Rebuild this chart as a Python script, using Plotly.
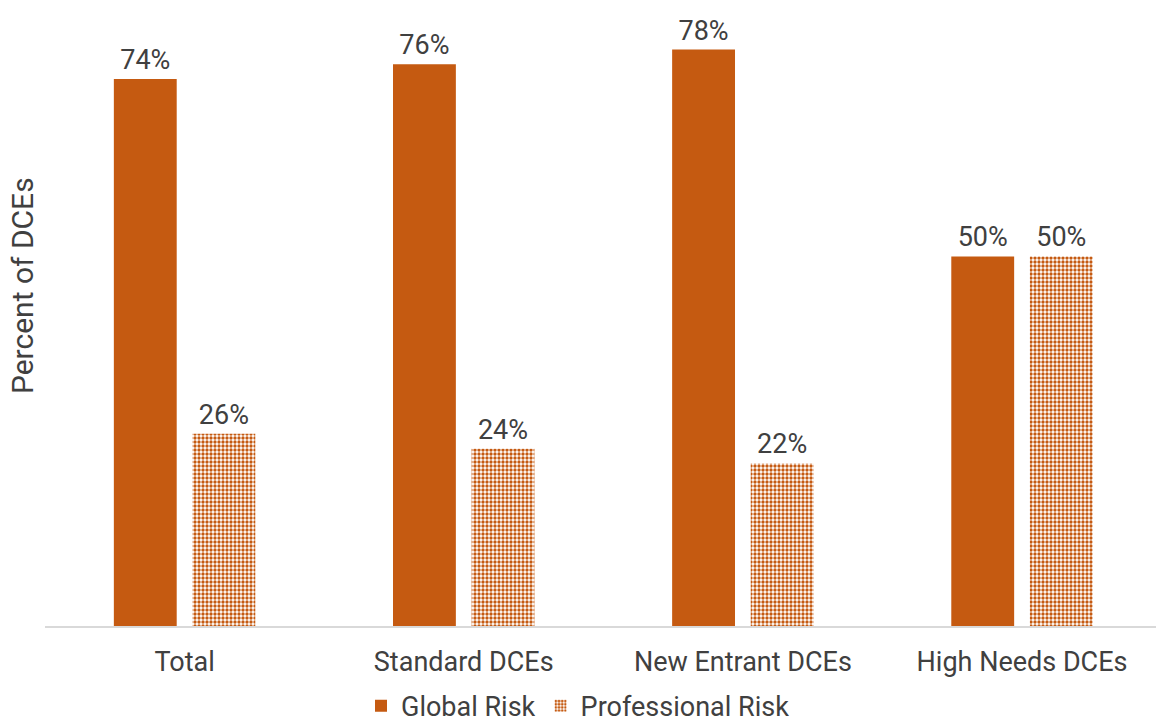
import plotly.graph_objects as go

categories = ["Total", "Standard DCEs", "New Entrant DCEs", "High Needs DCEs"]
global_risk = [0.74, 0.76, 0.78, 0.50]
professional_risk = [0.26, 0.24, 0.22, 0.50]

ORANGE = "#C55A11"
TEXT = "#404040"
FONT = "Roboto"

fig = go.Figure()
fig.add_trace(go.Bar(
    x=categories, y=global_risk, name="Global Risk",
    marker=dict(color=ORANGE, line=dict(width=0)),
    texttemplate="%{y:.0%}", textposition="outside",
    textfont=dict(family=FONT, size=27, color=TEXT),
    cliponaxis=False,
))
fig.add_trace(go.Bar(
    x=categories, y=professional_risk, name="Professional Risk",
    marker=dict(color="white", line=dict(width=0),
                pattern=dict(shape=".", fgcolor=ORANGE, bgcolor="white",
                             size=4, solidity=0.55, fillmode="replace")),
    texttemplate="%{y:.0%}", textposition="outside",
    textfont=dict(family=FONT, size=27, color=TEXT),
    cliponaxis=False,
))

fig.update_layout(
    width=1156, height=725,
    margin=dict(l=45, r=0, t=20, b=99, autoexpand=False),
    paper_bgcolor="white", plot_bgcolor="white",
    barmode="group", bargap=0.437, bargroupgap=0.2,
    font=dict(family=FONT, size=20, color=TEXT),
    showlegend=True,
    legend=dict(orientation="h", x=0.5, xanchor="center", xref="container",
                y=-0.092, yanchor="top", yref="paper",
                font=dict(family=FONT, size=27, color=TEXT), itemwidth=30,
                traceorder="normal"),
    xaxis=dict(showline=True, linecolor="#D9D9D9", linewidth=2, ticks="",
               range=[-0.5, 3.48], ticklabelstandoff=11,
               tickfont=dict(family=FONT, size=27, color=TEXT), showgrid=False),
    yaxis=dict(range=[0, 0.82], showticklabels=False, showgrid=False, zeroline=False),
    annotations=[dict(text="Percent of DCEs", textangle=-90, showarrow=False,
                      xref="paper", yref="paper", x=-0.0207, y=0.561,
                      xanchor="center", yanchor="middle",
                      font=dict(family=FONT, size=30, color=TEXT))],
)

fig.write_html("out.html")
